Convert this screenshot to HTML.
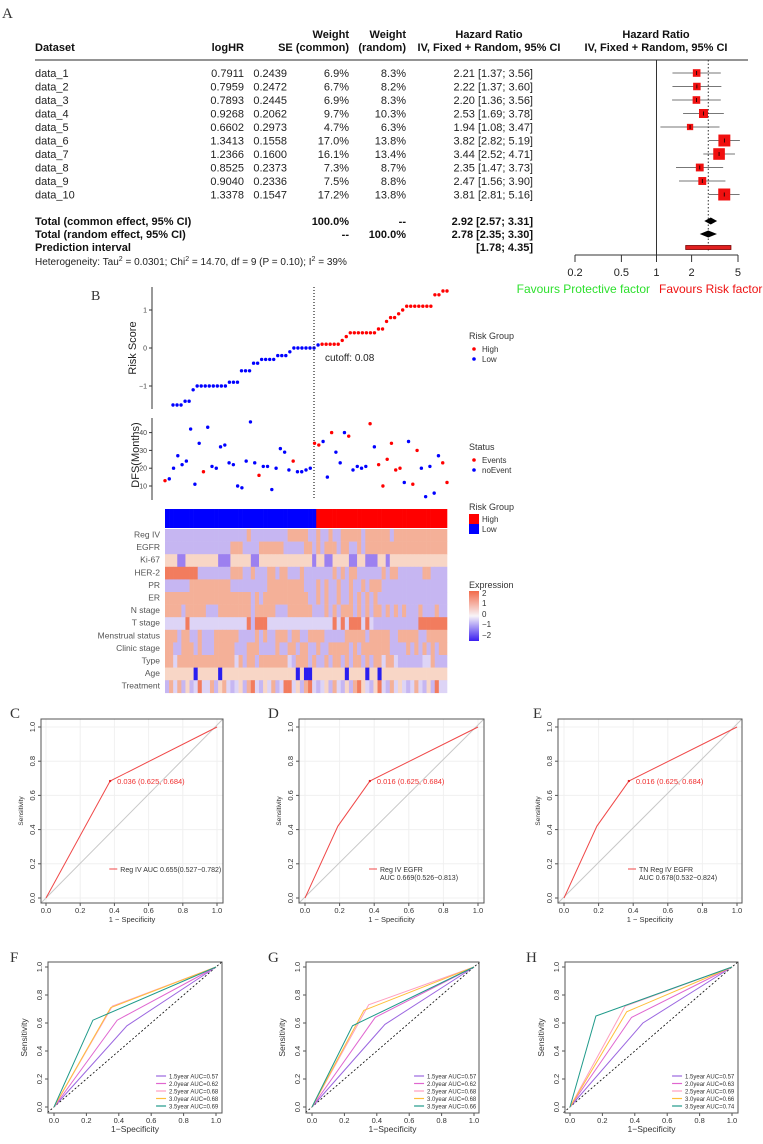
<!DOCTYPE html>
<html><head><meta charset="utf-8"><style>
html,body{margin:0;padding:0;background:#fff;}
svg{display:block;font-family:"Liberation Sans Narrow","Liberation Sans",sans-serif;}
</style></head><body>
<svg id="fig" width="763" height="1144" viewBox="0 0 763 1144" xmlns="http://www.w3.org/2000/svg">
<rect width="763" height="1144" fill="#fff"/>
<g id="pa">
<text x="2" y="18" font-family="Liberation Serif,serif" font-size="15" fill="#333">A</text>
<g font-size="11" font-weight="bold" fill="#111">
<text x="349" y="38" text-anchor="end">Weight</text>
<text x="406" y="38" text-anchor="end">Weight</text>
<text x="489" y="38" text-anchor="middle">Hazard Ratio</text>
<text x="656" y="38" text-anchor="middle">Hazard Ratio</text>
<text x="35" y="51">Dataset</text>
<text x="244" y="51" text-anchor="end">logHR</text>
<text x="349" y="51" text-anchor="end">SE (common)</text>
<text x="406" y="51" text-anchor="end">(random)</text>
<text x="489" y="51" text-anchor="middle">IV, Fixed + Random, 95% CI</text>
<text x="656" y="51" text-anchor="middle">IV, Fixed + Random, 95% CI</text>
</g>
<line x1="35" y1="60" x2="748" y2="60" stroke="#555" stroke-width="1.2"/>
<g id="rows"></g>
<g font-size="11" font-weight="bold" fill="#111">
<text x="35" y="225">Total (common effect, 95% CI)</text>
<text x="349" y="225" text-anchor="end">100.0%</text>
<text x="406" y="225" text-anchor="end">--</text>
<text x="533" y="225" text-anchor="end">2.92 [2.57; 3.31]</text>
<text x="35" y="238">Total (random effect, 95% CI)</text>
<text x="349" y="238" text-anchor="end">--</text>
<text x="406" y="238" text-anchor="end">100.0%</text>
<text x="533" y="238" text-anchor="end">2.78 [2.35; 3.30]</text>
<text x="35" y="251">Prediction interval</text>
<text x="533" y="251" text-anchor="end">[1.78; 4.35]</text>
</g>
<text x="35" y="265" font-size="10" fill="#222">Heterogeneity: Tau<tspan dy="-4" font-size="7">2</tspan><tspan dy="4"> = 0.0301; Chi</tspan><tspan dy="-4" font-size="7">2</tspan><tspan dy="4"> = 14.70, df = 9 (P = 0.10); I</tspan><tspan dy="-4" font-size="7">2</tspan><tspan dy="4"> = 39%</tspan></text>
<g id="forest"></g>
<text x="650" y="293" font-size="12" fill="#2ee02e" text-anchor="end" font-family="Liberation Sans,sans-serif">Favours Protective factor</text>
<text x="659" y="293" font-size="12" fill="#ee1111" font-family="Liberation Sans,sans-serif">Favours Risk factor</text>
</g>
<g id="pb" font-family="Liberation Sans,sans-serif">
<text x="91" y="300" font-family="Liberation Serif,serif" font-size="14" fill="#333">B</text>
<text transform="translate(136,348) rotate(-90)" text-anchor="middle" font-size="11" fill="#222">Risk Score</text>
<text transform="translate(139,455) rotate(-90)" text-anchor="middle" font-size="11" fill="#222">DFS(Months)</text>
<text x="325" y="361" font-size="10" fill="#222">cutoff: 0.08</text>
<g font-size="8" fill="#333">
<text x="469" y="339" font-size="9">Risk Group</text>
<circle cx="474" cy="349" r="1.8" fill="#f00"/><text x="482" y="352">High</text>
<circle cx="474" cy="359" r="1.8" fill="#00f"/><text x="482" y="362">Low</text>
<text x="469" y="450" font-size="9">Status</text>
<circle cx="474" cy="460" r="1.8" fill="#f00"/><text x="482" y="463">Events</text>
<circle cx="474" cy="470" r="1.8" fill="#00f"/><text x="482" y="473">noEvent</text>
<text x="469" y="510" font-size="9">Risk Group</text>
<rect x="469" y="514" width="10" height="10" fill="#f00"/><text x="482" y="522">High</text>
<rect x="469" y="524" width="10" height="10" fill="#00f"/><text x="482" y="532">Low</text>
<text x="469" y="588" font-size="9">Expression</text>
<defs><linearGradient id="eg" x1="0" y1="0" x2="0" y2="1"><stop offset="0" stop-color="#f26a4a"/><stop offset="0.5" stop-color="#f8f4f8"/><stop offset="1" stop-color="#3a1ef0"/></linearGradient></defs>
<rect x="469" y="591" width="10" height="50" fill="url(#eg)"/>
<text x="482" y="596">2</text><text x="482" y="606">1</text><text x="482" y="617">0</text><text x="482" y="627">−1</text><text x="482" y="638">−2</text>
</g>
<g id="riskg"></g><g id="dfsg"></g><g id="heat"></g>
</g>
<g id="roc" font-family="Liberation Sans,sans-serif"></g>
</svg>
<script>
// ---------- Panel A data ----------
const datasets=["data_1","data_2","data_3","data_4","data_5","data_6","data_7","data_8","data_9","data_10"];
const logHR=["0.7911","0.7959","0.7893","0.9268","0.6602","1.3413","1.2366","0.8525","0.9040","1.3378"];
const seVals=["0.2439","0.2472","0.2445","0.2062","0.2973","0.1558","0.1600","0.2373","0.2336","0.1547"];
const wCommon=[6.9,6.7,6.9,9.7,4.7,17.0,16.1,7.3,7.5,17.2];
const wRandom=[8.3,8.2,8.3,10.3,6.3,13.8,13.4,8.7,8.8,13.8];
const hr=[2.21,2.22,2.20,2.53,1.94,3.82,3.44,2.35,2.47,3.81];
const hrLo=[1.37,1.37,1.36,1.69,1.08,2.82,2.52,1.47,1.56,2.81];
const hrHi=[3.56,3.60,3.56,3.78,3.47,5.19,4.71,3.73,3.90,5.16];
const commonEff=[2.92,2.57,3.31];
const randomEff=[2.78,2.35,3.30];
const predInt=[1.78,4.35];
const forestTicks=[0.2,0.5,1,2,5];
// ---------- Panel B data ----------
const riskScore=[-1.5,-1.5,-1.5,-1.4,-1.4,-1.1,-1,-1,-1,-1,-1,-1,-1,-1,-0.9,-0.9,-0.9,-0.6,-0.6,-0.6,-0.4,-0.4,-0.3,-0.3,-0.3,-0.3,-0.2,-0.2,-0.2,-0.1,0,0,0,0,0,0,0.08,
0.1,0.1,0.1,0.1,0.1,0.2,0.3,0.4,0.4,0.4,0.4,0.4,0.4,0.4,0.5,0.5,0.7,0.8,0.8,0.9,1.0,1.1,1.1,1.1,1.1,1.1,1.1,1.1,1.4,1.4,1.5,1.5];
const riskCutoff=0.08;
const riskTicks=[1,0,-1];
const dfsMonths=[13,14,20,27,22,24,42,11,34,18,43,21,20,32,33,23,22,10,9,24,46,23,16,21,21,8,20,31,29,19,24,18,18,19,20,34,33,35,15,40,29,23,40,38,19,21,20,21,45,32,22,10,25,34,19,20,12,35,11,30,20,4,21,6,27,23,12];
const dfsEvent=[1,0,0,0,0,0,0,0,0,1,0,0,0,0,0,0,0,0,0,0,0,0,1,0,0,0,0,0,0,0,1,0,0,0,0,1,1,0,0,1,0,0,0,1,0,0,0,0,1,0,1,1,1,1,1,1,0,0,1,1,0,0,0,0,0,1,1];
const dfsTicks=[10,20,30,40];
const heatRows=["Reg IV","EGFR","Ki-67","HER-2","PR","ER","N stage","T stage","Menstrual status","Clinic stage","Type","Age","Treatment"];
const heatCodes=[
"BBBBBBBBBBBBBBBBBBBBsBBBBBBBBBsssssBBsBBsBBsssssBssssssBssssssssssss",
"BBBBBBBBBBBBBBBBsssBBBBssssssBBBBBssBsBsssBssBBsBssssssssssssssssssss",
"pppPPppppppppPPPpppppPPpppppppppppppPppPPppppPPppPPPppPpppppppppppppp",
"SSSSSSSSBBBBBBBBsssBBsBBBssBssBBBsBBBBBBBsBsBssBBBBBBsBssBBBBBBssBBB",
"BBBBBBssssssssssBBBBBBBBBsssssssssBBBsBsBBsBBsBBsBsssBBBBBBBBBBBBBBBB",
"sssssssssssssssssssssBsBsssssssssssBBsBsBBsBBsBsBsBsBBBBBBBBBBBBBBBBB",
"ssssBsssssBBBssssssssBsssssBBBssssssBBBsBsBsssBsBsBssBsBsBsBBBsBBBsB",
"bbbbbSbbbbbbbbbbbbbbSBSSSbbbbbbbbbbbbbbbbSbSbSSSbSbBBBBBBBBBBBSSSSSS",
"sssBssBBsBBBssssssBBBBsBsBBsssBssBBssssBBBBBsssssBsssssBBsssssBBssss",
"ssBBsssBsBBBsssssBBBsssBBBBsBBssBssBBsBBsssssBsBsssssssBBBBsBsBsBsBs",
"ssbssssssssssssssbsBssBsssssssbBsssBsBBsBssBsBssBsBssbssbBBBBBBbbsBB",
"pppppppDpppppDppppppppppppppppppDpDDppppppppDppppDppDpppppppppppppppp",
"BsbsBpBbSbbsBpsbBbpBsSbBpbsBbSSbpBsSbBbpBsbBpBsSpbBpSbBsbpbBbsbBpBSb"];
// ---------- ROC data ----------
const rocC_fpr=[0,0.375,1], rocC_tpr=[0,0.684,1];
const rocD_fpr=[0,0.19,0.375,1], rocD_tpr=[0,0.42,0.684,1];
const rocE_fpr=[0,0.19,0.375,1], rocE_tpr=[0,0.42,0.684,1];
const rocTicks=[0,0.2,0.4,0.6,0.8,1.0];
const yearLabels=["1.5year","2.0year","2.5year","3.0year","3.5year"];
const F_fpr=[[0,0.45,1],[0,0.39,1],[0,0.36,1],[0,0.35,1],[0,0.24,1]];
const F_tpr=[[0,0.58,1],[0,0.62,1],[0,0.72,1],[0,0.71,1],[0,0.62,1]];
const F_auc=["0.57","0.62","0.68","0.68","0.69"];
const G_fpr=[[0,0.45,1],[0,0.39,1],[0,0.35,1],[0,0.32,1],[0,0.25,1]];
const G_tpr=[[0,0.59,1],[0,0.64,1],[0,0.73,1],[0,0.69,1],[0,0.58,1]];
const G_auc=["0.57","0.62","0.68","0.68","0.66"];
const H_fpr=[[0,0.45,1],[0,0.38,1],[0,0.34,1],[0,0.35,1],[0,0.16,1]];
const H_tpr=[[0,0.6,1],[0,0.64,1],[0,0.72,1],[0,0.68,1],[0,0.65,1]];
const H_auc=["0.57","0.63","0.69","0.66","0.74"];

const NS="http://www.w3.org/2000/svg";
function el(tag,attrs,parent,txt){const e=document.createElementNS(NS,tag);for(const k in attrs)e.setAttribute(k,attrs[k]);if(txt!==undefined)e.textContent=txt;parent.appendChild(e);return e;}

// ---------- Forest ----------
(function(){
const rows=document.getElementById('rows'), fg=document.getElementById('forest');
const fx=v=>575+(Math.log10(v)-Math.log10(0.2))*116.6;
const ry=i=>73+i*13.5;
datasets.forEach((d,i)=>{
 const y=ry(i)+4;
 const g=el('g',{'font-size':11,fill:'#222'},rows);
 
 
 el('text',{x:35,y:y},g,d);
 el('text',{x:244,y:y,'text-anchor':'end'},g,logHR[i]);
 el('text',{x:287,y:y,'text-anchor':'end'},g,seVals[i]);
 el('text',{x:349,y:y,'text-anchor':'end'},g,wCommon[i].toFixed(1)+'%');
 el('text',{x:406,y:y,'text-anchor':'end'},g,wRandom[i].toFixed(1)+'%');
 el('text',{x:533,y:y,'text-anchor':'end'},g,hr[i].toFixed(2)+' ['+hrLo[i].toFixed(2)+'; '+hrHi[i].toFixed(2)+']');
 const ci=el('line',{x1:fx(hrLo[i]),x2:Math.min(fx(hrHi[i]),748),y1:ry(i),y2:ry(i),stroke:'#777','stroke-width':1},fg);
 
 
 const s=12*Math.sqrt(wCommon[i]/17.2);
 const b=el('rect',{x:fx(hr[i])-s/2,y:ry(i)-s/2,width:s,height:s,fill:'#f01010'},fg);
 
 
 el('line',{x1:fx(hr[i]),x2:fx(hr[i]),y1:ry(i)-2,y2:ry(i)+2,stroke:'#000','stroke-width':0.8},fg);
});
const v1=el('line',{x1:fx(1),x2:fx(1),y1:60,y2:255,stroke:'#333','stroke-width':1},fg);


const v2=el('line',{x1:fx(randomEff[0]),x2:fx(randomEff[0]),y1:60,y2:252,stroke:'#333','stroke-width':1,'stroke-dasharray':'1.5,2'},fg);


function diamond(e,y,nm){const p=el('polygon',{points:`${fx(e[1])},${y} ${fx(e[0])},${y-3.5} ${fx(e[2])},${y} ${fx(e[0])},${y+3.5}`,fill:'#000'},fg);
 
 }
diamond(commonEff,221,'common-effect-diamond');
diamond(randomEff,234,'random-effect-diamond');
const pi=el('rect',{x:fx(predInt[0]),y:245.5,width:fx(predInt[1])-fx(predInt[0]),height:4,fill:'#e02020',stroke:'#7a0000','stroke-width':0.8},fg);


const ax=el('line',{x1:fx(0.2),x2:fx(5),y1:255,y2:255,stroke:'#333'},fg);


forestTicks.forEach(t=>{el('line',{x1:fx(t),x2:fx(t),y1:255,y2:262,stroke:'#333'},fg);
 const tl=el('text',{x:fx(t),y:276,'text-anchor':'middle','font-size':11,fill:'#222','font-family':'Liberation Sans,sans-serif'},fg,String(t));
 
 });
})();

// ---------- Risk score ----------
(function(){
const g=document.getElementById('riskg');
const n=riskScore.length;
const x=i=>173+i*(447-173)/(n-1);
const y=v=>348-v*38;
el('line',{x1:152,x2:152,y1:287,y2:409,stroke:'#333'},g);
riskTicks.forEach(t=>{el('line',{x1:149,x2:152,y1:y(t),y2:y(t),stroke:'#333'},g);
 el('text',{x:147,y:y(t)+2.5,'text-anchor':'end','font-size':7,fill:'#444'},g,t<0?'−'+(-t):String(t));});
riskScore.forEach((v,i)=>{const c=el('circle',{cx:x(i),cy:y(v),r:1.7,fill:v>riskCutoff?'#f00':'#00f'},g);
 
 });
const cl=el('line',{x1:314,x2:314,y1:287,y2:500,stroke:'#222','stroke-dasharray':'1,2','stroke-width':1.2},g);


})();
// ---------- DFS ----------
(function(){
const g=document.getElementById('dfsg');
const n=dfsMonths.length;
const x=i=>165+i*(447-165)/(n-1);
const y=v=>486-(v-10)*1.78;
el('line',{x1:152,x2:152,y1:418,y2:500,stroke:'#333'},g);
dfsTicks.forEach(t=>{el('line',{x1:149,x2:152,y1:y(t),y2:y(t),stroke:'#333'},g);
 el('text',{x:147,y:y(t)+2.5,'text-anchor':'end','font-size':7,fill:'#444'},g,String(t));});
dfsMonths.forEach((v,i)=>{const c=el('circle',{cx:x(i),cy:y(v),r:1.7,fill:dfsEvent[i]?'#f00':'#00f'},g);
 
 });
})();
// ---------- Heatmap ----------
(function(){
const g=document.getElementById('heat');
const n=riskScore.length, x0=165, w=(447-165)/n;
const cmap={D:'#2a1ef0',P:'#9c80f0',B:'#c6b6f2',b:'#ddd4f6',w:'#f6eef4',p:'#f8d6c6',s:'#f4b098',S:'#f27c5e'};
riskScore.forEach((v,i)=>{const r=el('rect',{x:x0+i*w,y:509,width:w+0.3,height:19,fill:v>riskCutoff?'#f00':'#00f'},g);
 
 });
const rh=12.6;
heatRows.forEach((name,r)=>{
 const yy=529+r*rh;
 const lb=el('text',{x:160,y:yy+8.5,'text-anchor':'end','font-size':8.5,fill:'#555'},g,name);
 
 
 let code=heatCodes[r];
 for(let i=0;i<n;i++){const ch=code[Math.min(i,code.length-1)];
  const c=el('rect',{x:x0+i*w,y:yy,width:w+0.3,height:rh+0.3,fill:cmap[ch]},g);
  
  }
});
})();
// ---------- ROC ----------
(function(){
const g=document.getElementById('roc');
function panel(o){
 const X=v=>o.x0+v*(o.x1-o.x0), Y=v=>o.y0-v*(o.y0-o.y1);
 const pg=el('g',{},g);
 
 
 el('text',{x:o.lx,y:o.ly,'font-size':15,fill:'#333','font-family':'Liberation Serif,serif'},pg,o.label);
 if(o.grid) rocTicks.forEach(t=>{el('line',{x1:X(t),x2:X(t),y1:o.by0,y2:o.by1,stroke:'#f0f0f0'},pg);el('line',{x1:o.bx0,x2:o.bx1,y1:Y(t),y2:Y(t),stroke:'#f0f0f0'},pg);});
 if(o.grid){el('line',{x1:o.bx0,y1:o.by1,x2:o.bx1,y2:o.by0,stroke:'#c8c8c8'},pg);}
 else{el('line',{x1:X(-0.04),y1:Y(-0.04),x2:X(1.04),y2:Y(1.04),stroke:'#000','stroke-dasharray':'2,2','stroke-width':0.8},pg);}
 el('rect',{x:o.bx0,y:o.by0,width:o.bx1-o.bx0,height:o.by1-o.by0,fill:'none',stroke:'#555','stroke-width':1},pg);
 rocTicks.forEach(t=>{
  el('line',{x1:X(t),x2:X(t),y1:o.by1,y2:o.by1+3,stroke:'#555'},pg);
  el('text',{x:X(t),y:o.by1+10,'text-anchor':'middle','font-size':7.5,fill:'#333'},pg,t.toFixed(1));
  el('line',{x1:o.bx0-3,x2:o.bx0,y1:Y(t),y2:Y(t),stroke:'#555'},pg);
  el('text',{transform:`translate(${o.bx0-6},${Y(t)}) rotate(-90)`,'text-anchor':'middle','font-size':7.5,fill:'#333'},pg,t.toFixed(1));
 });
 el('text',{x:(o.bx0+o.bx1)/2,y:o.by1+19,'text-anchor':'middle','font-size':o.grid?7.5:8.5,fill:'#333'},pg,o.xt);
 el('text',{transform:`translate(${o.bx0-(o.grid?18:21)},${(o.by0+o.by1)/2}) rotate(-90)`,'text-anchor':'middle','font-size':o.grid?6.5:8.5,fill:'#333'},pg,'Sensitivity');
 o.series.forEach((s,k)=>{
  const pts=s.fpr.map((f,i)=>X(f)+','+Y(s.tpr[i])).join(' ');
  const pl=el('polyline',{points:pts,fill:'none',stroke:s.color,'stroke-width':1},pg);
  
  
 });
 return {pg,X,Y};
}
const cfgs=[
 {label:'C',lx:10,ly:718,x0:46,x1:217,y0:898,y1:727,bx0:41,bx1:223,by0:719,by1:903,fpr:rocC_fpr,tpr:rocC_tpr,cut:'0.036 (0.625, 0.684)',leg:['Reg IV AUC 0.655(0.527−0.782)']},
 {label:'D',lx:268,ly:718,x0:305,x1:478,y0:898,y1:727,bx0:299,bx1:484,by0:719,by1:903,fpr:rocD_fpr,tpr:rocD_tpr,cut:'0.016 (0.625, 0.684)',leg:['Reg IV EGFR','AUC 0.669(0.526−0.813)']},
 {label:'E',lx:533,ly:718,x0:564,x1:737,y0:898,y1:727,bx0:558,bx1:742,by0:719,by1:903,fpr:rocE_fpr,tpr:rocE_tpr,cut:'0.016 (0.625, 0.684)',leg:['TN  Reg IV EGFR','AUC 0.678(0.532−0.824)']}];
cfgs.forEach(c=>{
 const p=panel({label:c.label,lx:c.lx,ly:c.ly,x0:c.x0,x1:c.x1,y0:c.y0,y1:c.y1,bx0:c.bx0,bx1:c.bx1,by0:c.by0,by1:c.by1,grid:true,xt:'1 − Specificity',series:[{fpr:c.fpr,tpr:c.tpr,color:'#f04848'}]});
 el('circle',{cx:p.X(c.fpr[c.fpr.length-2]),cy:p.Y(c.tpr[c.tpr.length-2]),r:1.2,fill:'#e02020'},p.pg);
 el('text',{x:p.X(c.fpr[c.fpr.length-2])+7,y:p.Y(c.tpr[c.tpr.length-2])+3,'font-size':7.5,fill:'#f03030'},p.pg,c.cut);
 const lx=p.X(0.37), ly=869;
 el('line',{x1:lx,x2:lx+8,y1:ly,y2:ly,stroke:'#f04848'},p.pg);
 c.leg.forEach((t,i)=>el('text',{x:i==0?lx+11:lx+11+(c.leg.length>1?0:0),y:ly+3+i*8,'font-size':7,fill:'#333'},p.pg,t));
});
const cols=['#9b66e0','#e066d0','#ff9ec0','#ffbf3a','#1f9a8a'];
const mcf=[
 {label:'F',lx:10,x0:54,x1:216,bx0:48,bx1:222,fpr:F_fpr,tpr:F_tpr,auc:F_auc},
 {label:'G',lx:268,x0:312,x1:474,bx0:306,bx1:479,fpr:G_fpr,tpr:G_tpr,auc:G_auc},
 {label:'H',lx:526,x0:570,x1:732,bx0:565,bx1:738,fpr:H_fpr,tpr:H_tpr,auc:H_auc}];
mcf.forEach(c=>{
 const p=panel({label:c.label,lx:c.lx,ly:962,x0:c.x0,x1:c.x1,y0:1107,y1:967,bx0:c.bx0,bx1:c.bx1,by0:962,by1:1113,grid:false,xt:'1−Specificity',
  series:c.fpr.map((f,k)=>({fpr:f,tpr:c.tpr[k],color:cols[k]}))});
 const lx=p.X(0.63);
 yearLabels.forEach((yl,k)=>{const yy=1076+k*7.5;
  el('line',{x1:lx,x2:lx+10,y1:yy,y2:yy,stroke:cols[k],'stroke-width':1.2},p.pg);
  el('text',{x:lx+13,y:yy+2.5,'font-size':6,fill:'#333'},p.pg,yl+' AUC='+c.auc[k]);});
});
})();
</script>
</body></html>
